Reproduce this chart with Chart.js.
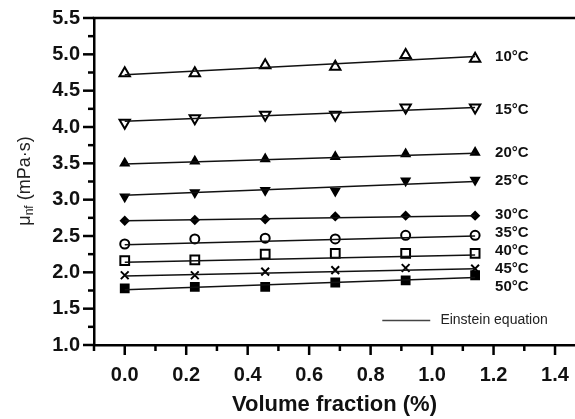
<!DOCTYPE html>
<html>
<head>
<meta charset="utf-8">
<script src="https://cdn.jsdelivr.net/npm/chart.js@4.4.0/dist/chart.umd.min.js"></script>
<style>
  html, body { margin: 0; padding: 0; background: #fff; }
</style>
</head>
<body>
<canvas id="chart" width="575" height="419"></canvas>
<script>
// temperatures and measured viscosity (mPa·s) vs volume fraction (%)
var temps = ["10°C", "15°C", "20°C", "25°C", "30°C", "35°C", "40°C", "45°C", "50°C"];
var fraction = [0, 0.228, 0.457, 0.685, 0.914, 1.14];

var mu10 = [4.74, 4.74, 4.85, 4.83, 4.99, 4.94];
var mu15 = [4.06, 4.12, 4.17, 4.17, 4.27, 4.27];
var mu20 = [3.50, 3.53, 3.56, 3.59, 3.63, 3.65];
var mu25 = [3.04, 3.10, 3.13, 3.12, 3.26, 3.27];
var mu30 = [2.71, 2.72, 2.73, 2.77, 2.78, 2.78];
var mu35 = [2.39, 2.46, 2.47, 2.46, 2.51, 2.51];
var mu40 = [2.16, 2.17, 2.25, 2.26, 2.26, 2.26];
var mu45 = [1.96, 1.96, 2.01, 2.03, 2.06, 2.05];
var mu50 = [1.78, 1.80, 1.80, 1.86, 1.89, 1.96];
var measured = [mu10, mu15, mu20, mu25, mu30, mu35, mu40, mu45, mu50];

// Einstein equation line, value at first and last fraction
var einsteinStart = [4.72, 4.08, 3.49, 3.06, 2.71, 2.38, 2.14, 1.95, 1.76];
var einsteinEnd = [4.97, 4.27, 3.64, 3.25, 2.78, 2.50, 2.24, 2.05, 1.93];

// where the temperature labels sit (viscosity units)
var labelY = [4.96, 4.23, 3.64, 3.26, 2.79, 2.54, 2.29, 2.05, 1.80];

var xTicks = { min: -0.1, max: 1.465, step: 0.1 };
var yTicks = { min: 1.0, max: 5.5, step: 0.25 };

// marker look per temperature
var markerStyle = [
  { style: "triangle", rot: 0, r: 6, fill: false },
  { style: "triangle", rot: 180, r: 6, fill: false },
  { style: "triangle", rot: 0, r: 4.5, fill: true },
  { style: "triangle", rot: 180, r: 4.5, fill: true },
  { style: "rectRot", rot: 0, r: 3.8, fill: true },
  { style: "circle", rot: 0, r: 4.5, fill: false },
  { style: "rect", rot: 0, r: 6.2, fill: false },
  { style: "crossRot", rot: 0, r: 5.5, fill: false },
  { style: "rect", rot: 0, r: 5.5, fill: true }
];

var datasets = [];
for (var i = 0; i < temps.length; i++) {
  datasets.push({
    label: temps[i] + " Einstein",
    data: [
      { x: fraction[0], y: einsteinStart[i] },
      { x: fraction[fraction.length - 1], y: einsteinEnd[i] }
    ],
    showLine: true,
    borderColor: "#111",
    borderWidth: 1.5,
    pointRadius: 0
  });
}
for (var i = 0; i < temps.length; i++) {
  var m = markerStyle[i];
  datasets.push({
    label: temps[i],
    data: fraction.map(function (x, j) { return { x: x, y: measured[i][j] }; }),
    showLine: false,
    pointStyle: m.style,
    rotation: m.rot,
    pointRadius: m.r,
    pointBorderWidth: 2,
    borderColor: "#000",
    backgroundColor: m.fill ? "#000" : "rgba(0,0,0,0)"
  });
}

function isMajor(v, every) {
  return Math.abs(v / every - Math.round(v / every)) < 1e-6;
}

var decor = {
  id: "decor",
  afterDraw: function (chart) {
    var ctx = chart.ctx, a = chart.chartArea;
    var xs = chart.scales.x, ys = chart.scales.y;
    ctx.save();
    ctx.strokeStyle = "#000";
    ctx.lineWidth = 2.5;
    ctx.beginPath();
    ctx.moveTo(a.left - 1.25, a.top);
    ctx.lineTo(a.right, a.top);
    ctx.stroke();

    ys.ticks.forEach(function (t) {
      var y = ys.getPixelForValue(t.value);
      var len = isMajor(t.value, 0.5) ? 11 : 6;
      ctx.beginPath();
      ctx.moveTo(a.left - len, y);
      ctx.lineTo(a.left, y);
      ctx.stroke();
    });
    xs.ticks.forEach(function (t) {
      var x = xs.getPixelForValue(t.value);
      var len = isMajor(t.value, 0.2) ? 10 : 6;
      ctx.beginPath();
      ctx.moveTo(x, a.bottom);
      ctx.lineTo(x, a.bottom + len);
      ctx.stroke();
    });

    // temperature labels
    ctx.fillStyle = "#111";
    ctx.font = "bold 15px 'Liberation Sans', Arial, sans-serif";
    ctx.textBaseline = "middle";
    ctx.textAlign = "left";
    for (var i = 0; i < temps.length; i++) {
      ctx.fillText(temps[i], xs.getPixelForValue(1.205), ys.getPixelForValue(labelY[i]));
    }

    // legend
    var ly = ys.getPixelForValue(1.336);
    ctx.strokeStyle = "#444";
    ctx.lineWidth = 1.5;
    ctx.beginPath();
    ctx.moveTo(xs.getPixelForValue(0.838), ly);
    ctx.lineTo(xs.getPixelForValue(0.994), ly);
    ctx.stroke();
    ctx.font = "14px 'Liberation Sans', Arial, sans-serif";
    ctx.fillStyle = "#222";
    ctx.fillText("Einstein equation", xs.getPixelForValue(1.027), ly);

    // y axis title with subscript
    ctx.translate(25, 181);
    ctx.rotate(-Math.PI / 2);
    var big = "18px 'Liberation Sans', Arial, sans-serif";
    var small = "12px 'Liberation Sans', Arial, sans-serif";
    ctx.font = big;
    var w1 = ctx.measureText("\u03bc").width;
    var w3 = ctx.measureText(" (mPa\u00b7s)").width;
    ctx.font = small;
    var w2 = ctx.measureText("nf").width;
    var x0 = -(w1 + w2 + w3) / 2;
    ctx.fillStyle = "#222";
    ctx.font = big;
    ctx.fillText("\u03bc", x0, 0);
    ctx.font = small;
    ctx.fillText("nf", x0 + w1, 5);
    ctx.font = big;
    ctx.fillText(" (mPa\u00b7s)", x0 + w1 + w2, 0);
    ctx.restore();
  }
};

new Chart(document.getElementById("chart"), {
  type: "scatter",
  data: { datasets: datasets },
  plugins: [decor],
  options: {
    responsive: false,
    animation: false,
    layout: { autoPadding: false, padding: { top: 18, right: 0, left: 0, bottom: 0 } },
    plugins: { legend: { display: false }, tooltip: { enabled: false } },
    scales: {
      x: {
        type: "linear",
        min: xTicks.min,
        max: xTicks.max,
        afterFit: function (s) { s.height = 74; s.paddingLeft = 0; s.paddingRight = 0; },
        border: { display: true, color: "#000", width: 2.5 },
        grid: { display: true, drawOnChartArea: false, tickLength: 10, color: "rgba(0,0,0,0)" },
        ticks: {
          stepSize: xTicks.step,
          includeBounds: false,
          autoSkip: false,
          maxRotation: 0,
          padding: 8,
          color: "#111",
          font: { family: "'Liberation Sans', Arial, sans-serif", size: 20, weight: "bold" },
          callback: function (v) { return isMajor(v, 0.2) ? v.toFixed(1) : ""; }
        },
        title: {
          display: true,
          text: "Volume fraction (%)",
          color: "#111",
          padding: { top: 0, bottom: 1 },
          font: { family: "'Liberation Sans', Arial, sans-serif", size: 22, weight: "bold" }
        }
      },
      y: {
        type: "linear",
        min: yTicks.min,
        max: yTicks.max,
        afterFit: function (s) { s.width = 94; s.paddingTop = 0; s.paddingBottom = 0; },
        border: { display: true, color: "#000", width: 2.5 },
        grid: { display: true, drawOnChartArea: false, tickLength: 11, color: "rgba(0,0,0,0)" },
        ticks: {
          stepSize: yTicks.step,
          includeBounds: false,
          autoSkip: false,
          padding: 3,
          color: "#111",
          font: { family: "'Liberation Sans', Arial, sans-serif", size: 20, weight: "bold" },
          callback: function (v) { return isMajor(v, 0.5) ? v.toFixed(1) : ""; }
        }
      }
    }
  }
});
</script>
</body>
</html>
